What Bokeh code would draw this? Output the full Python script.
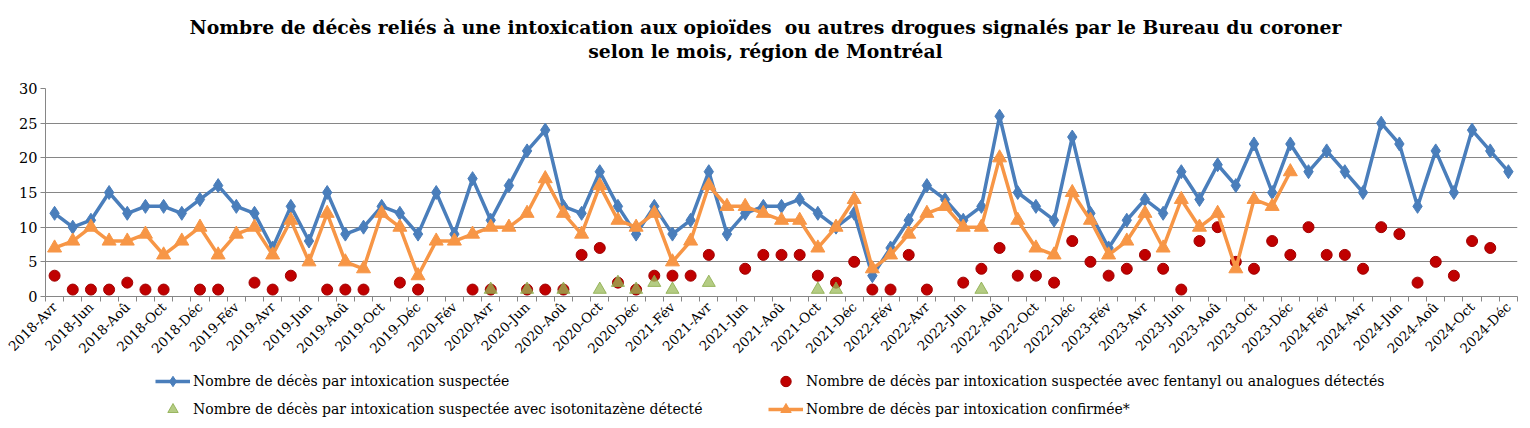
import math
from bokeh.plotting import figure
from bokeh.layouts import column
from bokeh.models import Range1d, FixedTicker, Legend, LegendItem, Label, ColumnDataSource
from bokeh.embed import file_html
from bokeh.resources import INLINE

NaN = float("nan")

month_names = ["Jan", "Fév", "Mar", "Avr", "Mai", "Jun", "Jul", "Aoû", "Sep", "Oct", "Nov", "Déc"]
years = [2018, 2019, 2020, 2021, 2022, 2023, 2024]
months = [f"{y}-{m}" for y in years for m in month_names][3:]  # 2018-Avr .. 2024-Déc

suspectee = [12, 10, 11, 15, 12, 13, 13, 12, 14, 16, 13, 12, 7, 13, 8, 15, 9, 10, 13, 12,
             9, 15, 9, 17, 11, 16, 21, 24, 13, 12, 18, 13, 9, 13, 9, 11, 18, 9, 12, 13,
             13, 14, 12, 10, 12, 3, 7, 11, 16, 14, 11, 13, 26, 15, 13, 11, 23, 12, 7, 11,
             14, 12, 18, 14, 19, 16, 22, 15, 22, 18, 21, 18, 15, 25, 22, 13, 21, 15, 24, 21, 18]

fentanyl = [3, 1, 1, 1, 2, 1, 1, NaN, 1, 1, NaN, 2, 1, 3, NaN, 1, 1, 1, NaN, 2,
            1, NaN, NaN, 1, 1, NaN, 1, 1, 1, 6, 7, 2, 1, 3, 3, 3, 6, NaN, 4, 6,
            6, 6, 3, 2, 5, 1, 1, 6, 1, NaN, 2, 4, 7, 3, 3, 2, 8, 5, 3, 4,
            6, 4, 1, 8, 10, 5, 4, 8, 6, 10, 6, 6, 4, 10, 9, 2, 5, 3, 8, 7, NaN]

isotonitazene = [NaN]*24 + [1, NaN, 1, NaN, 1, NaN, 1, 2, 1, 2, 1, NaN, 2, NaN, NaN, NaN,
                            NaN, NaN, 1, 1, NaN, NaN, NaN, NaN, NaN, NaN, NaN, 1] + [NaN]*29

confirmee = [7, 8, 10, 8, 8, 9, 6, 8, 10, 6, 9, 10, 6, 11, 5, 12, 5, 4, 12, 10,
             3, 8, 8, 9, 10, 10, 12, 17, 12, 9, 16, 11, 10, 12, 5, 8, 16, 13, 13, 12,
             11, 11, 7, 10, 14, 4, 6, 9, 12, 13, 10, 10, 20, 11, 7, 6, 15, 11, 6, 8,
             12, 7, 14, 10, 12, 4, 14, 13, 18] + [NaN]*12

y_ticks = [0, 5, 10, 15, 20, 25, 30]

labels = [
    "Nombre de décès par intoxication suspectée",
    "Nombre de décès par intoxication suspectée avec fentanyl ou analogues détectés",
    "Nombre de décès par intoxication suspectée avec isotonitazène détecté",
    "Nombre de décès par intoxication confirmée*",
]
title1 = "Nombre de décès reliés à une intoxication aux opioïdes\u00a0 ou autres drogues signalés par le Bureau du coroner"
title2 = "selon le mois, région de Montréal"

n = len(months)
x = list(range(n))
src = ColumnDataSource(dict(x=x, s=suspectee, f=fentanyl, i=isotonitazene, c=confirmee))

FONT = "DejaVu Serif"
GRID = "#868686"
W = 1522
FL, FR = 45, 1517   # frame left / right in page pixels (frames are aligned in the column)

BLUE = "#4A7EBB"
ORANGE = "#F79646"
RED = "#C00000"
GREEN = "#9BBB59"

# ---------- title strip ----------
TH = 78
pt = figure(width=W, height=TH, output_backend="svg", toolbar_location=None,
            x_range=Range1d(FL, FR), y_range=Range1d(0, TH),
            x_axis_location=None, y_axis_location=None,
            min_border_left=FL, min_border_right=W - FR, min_border_top=0, min_border_bottom=0)
pt.outline_line_color = None
pt.grid.grid_line_color = None
pt.add_layout(Label(x=765, y=TH - 26, text=title1, text_align="center", text_baseline="middle",
                    text_font=FONT, text_font_style="bold", text_font_size="18.8px", text_color="black"))
pt.add_layout(Label(x=765, y=TH - 50, text=title2, text_align="center", text_baseline="middle",
                    text_font=FONT, text_font_style="bold", text_font_size="18.8px", text_color="black"))

# ---------- main chart ----------
p = figure(frame_width=FR - FL, frame_height=208, output_backend="svg", toolbar_location=None,
           x_range=Range1d(-0.5, n - 0.5), y_range=Range1d(0, 30),
           min_border_left=FL, min_border_right=W - FR, min_border_top=10, min_border_bottom=70)
p.outline_line_color = None
p.background_fill_color = "white"

p.xgrid.grid_line_color = None
p.ygrid.grid_line_color = GRID
p.ygrid.grid_line_width = 1

p.yaxis.ticker = FixedTicker(ticks=y_ticks)
p.yaxis.axis_line_color = GRID
p.yaxis.major_tick_line_color = GRID
p.yaxis.major_tick_out = 5
p.yaxis.major_tick_in = 0
p.yaxis.minor_tick_line_color = None
p.yaxis.major_label_text_font = FONT
p.yaxis.major_label_text_font_size = "14.5px"
p.yaxis.major_label_text_color = "black"
p.yaxis.major_label_standoff = 3

p.xaxis.ticker = FixedTicker(ticks=list(range(0, n, 2)), minor_ticks=[k - 0.5 for k in range(n + 1)])
p.xaxis.major_label_overrides = {k: months[k] for k in range(0, n, 2)}
p.xaxis.axis_line_color = GRID
p.xaxis.major_tick_line_color = None
p.xaxis.major_tick_out = 4
p.xaxis.major_tick_in = 0
p.xaxis.minor_tick_line_color = GRID
p.xaxis.minor_tick_out = 5
p.xaxis.minor_tick_in = 0
p.xaxis.major_label_orientation = math.pi / 4
p.xaxis.major_label_text_font = FONT
p.xaxis.major_label_text_font_size = "13.5px"
p.xaxis.major_label_text_color = "black"
p.xaxis.major_label_standoff = 3

def draw(fig, source):
    bl = fig.line("x", "s", source=source, line_color=BLUE, line_width=3.5)
    bm = fig.scatter("x", "s", source=source, marker="diamond", size=14, fill_color=BLUE, line_color=BLUE)
    rm = fig.scatter("x", "f", source=source, marker="circle", size=11, fill_color=RED, line_color="#A00000")
    gm = fig.scatter("x", "i", source=source, marker="triangle", size=13, fill_color=GREEN, fill_alpha=0.75,
                     line_color="#8AAA48", line_alpha=0.8)
    ol = fig.line("x", "c", source=source, line_color=ORANGE, line_width=3.5)
    om = fig.scatter("x", "c", source=source, marker="triangle", size=14, fill_color=ORANGE, line_color=ORANGE)
    return bl, bm, rm, gm, ol, om

draw(p, src)

# ---------- legend strip ----------
LH = 56
pl = figure(width=W, height=LH, output_backend="svg", toolbar_location=None,
            x_range=Range1d(FL, FR), y_range=Range1d(0, LH),
            x_axis_location=None, y_axis_location=None,
            min_border_left=FL, min_border_right=W - FR, min_border_top=0, min_border_bottom=0)
pl.outline_line_color = None
pl.grid.grid_line_color = None
# placeholder source (one undefined row) so the legend can draw its sample glyphs
placeholder = ColumnDataSource(dict(x=[NaN], s=[NaN], f=[NaN], i=[NaN], c=[NaN]))
lbl, lbm, lrm, lgm, lol, lom = draw(pl, placeholder)

def make_legend(items, loc):
    lg = Legend(items=items, location=loc, orientation="horizontal",
                glyph_width=35, glyph_height=26, label_height=26, label_standoff=3, label_width=575,
                spacing=0, padding=0, margin=0,
                label_text_font=FONT, label_text_font_size="14px", label_text_color="black",
                background_fill_alpha=0, border_line_alpha=0)
    pl.add_layout(lg, "center")

make_legend([LegendItem(label=labels[0], renderers=[lbl, lbm]),
             LegendItem(label=labels[1], renderers=[lrm])], (155 - FL, 28))
make_legend([LegendItem(label=labels[2], renderers=[lgm]),
             LegendItem(label=labels[3], renderers=[lol, lom])], (155 - FL, 0))

layout = column(pt, p, pl, spacing=0)
open("out.html", "w").write(file_html(layout, INLINE))
